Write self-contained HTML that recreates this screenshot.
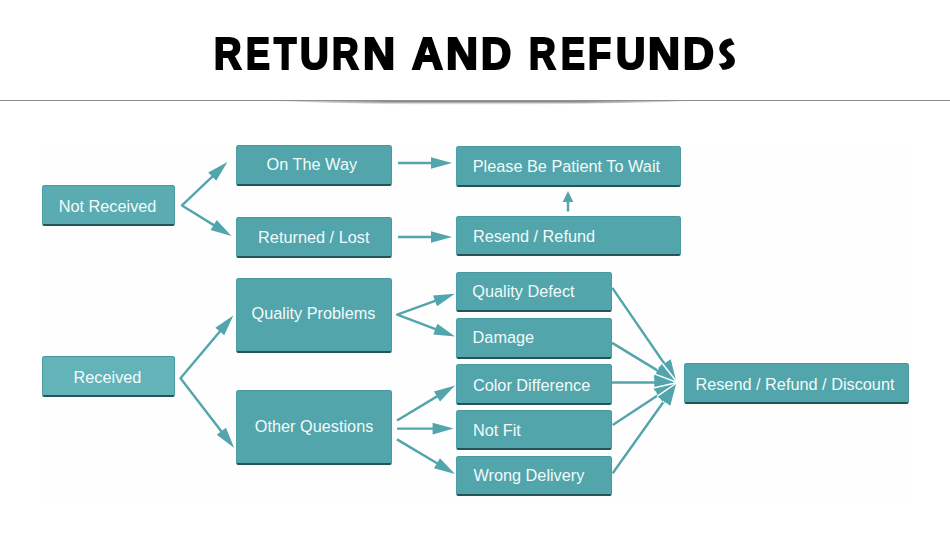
<!DOCTYPE html>
<html><head><meta charset="utf-8">
<style>
html,body{margin:0;padding:0;background:#fff;}
body{width:950px;height:535px;position:relative;overflow:hidden;font-family:"Liberation Sans",sans-serif;}
.tl{position:absolute;top:28.8px;font-weight:bold;font-size:44px;line-height:50px;color:#000;-webkit-text-stroke:2.2px #000;transform-origin:0 0;white-space:nowrap;}
.panel{position:absolute;left:40px;top:144px;width:872px;height:361px;background:#fefefe;}
.b{position:absolute;box-sizing:border-box;background:#51a5ab;border-top:1px solid #48999f;border-left:1px solid #4c9fa5;border-right:1px solid #4a9ca2;border-bottom:2px solid #245458;border-radius:2.5px;}
.t{position:absolute;font-size:16.3px;line-height:20px;color:#f2fbfb;white-space:nowrap;}
svg{position:absolute;left:0;top:0;}
</style></head>
<body>
<svg width="950" height="535">
  <defs>
    <linearGradient id="sh" gradientUnits="userSpaceOnUse" x1="0" y1="100" x2="0" y2="105.5">
      <stop offset="0" stop-color="#6e6e6e" stop-opacity="1"/>
      <stop offset="0.4" stop-color="#888" stop-opacity="0.85"/>
      <stop offset="1" stop-color="#fff" stop-opacity="0"/>
    </linearGradient>
    <linearGradient id="shx" gradientUnits="userSpaceOnUse" x1="250" y1="0" x2="715" y2="0">
      <stop offset="0" stop-color="#fff" stop-opacity="0"/>
      <stop offset="0.3" stop-color="#fff" stop-opacity="1"/>
      <stop offset="0.72" stop-color="#fff" stop-opacity="1"/>
      <stop offset="1" stop-color="#fff" stop-opacity="0"/>
    </linearGradient>
    <mask id="mx" maskUnits="userSpaceOnUse" x="0" y="90" width="950" height="20"><rect x="250" y="95" width="465" height="15" fill="url(#shx)"/></mask>
  </defs>
  <path d="M250,100 C400,106.5 560,106.5 715,100 Z" fill="url(#sh)" mask="url(#mx)"/>
  <rect x="0" y="100" width="950" height="1" fill="#8f8f8f"/>
</svg>
<span class="tl" style="left:214.46px;transform:scaleX(0.8642)">R</span><span class="tl" style="left:245.76px;transform:scaleX(0.8125)">E</span><span class="tl" style="left:274.30px;transform:scaleX(0.8298)">T</span><span class="tl" style="left:299.74px;transform:scaleX(0.9024)">U</span><span class="tl" style="left:332.31px;transform:scaleX(0.8377)">R</span><span class="tl" style="left:362.88px;transform:scaleX(1.0106)">N</span><span class="tl" style="left:412.41px;transform:scaleX(0.9707)">A</span><span class="tl" style="left:445.79px;transform:scaleX(1.0071)">N</span><span class="tl" style="left:481.19px;transform:scaleX(0.9521)">D</span><span class="tl" style="left:529.40px;transform:scaleX(0.8411)">R</span><span class="tl" style="left:560.56px;transform:scaleX(0.8125)">E</span><span class="tl" style="left:588.27px;transform:scaleX(0.8595)">F</span><span class="tl" style="left:616.41px;transform:scaleX(0.9233)">U</span><span class="tl" style="left:648.19px;transform:scaleX(1.0071)">N</span><span class="tl" style="left:682.95px;transform:scaleX(0.9760)">D</span>
<svg width="950" height="535"><path d="M731,38.2 L734.6,44.6 C731.5,45.2 728.5,46 726.8,48.2 C726.2,49.5 727.2,50.8 729.5,52.8 C734.2,56.5 736,59.5 734.3,64 C732.5,68 727.5,69.8 722.6,69.8 L718.8,63.8 C722.5,63.5 725.5,62.8 726.5,61 C727.2,59.6 726.3,58.2 724,56.3 C719.8,52.8 718.4,49.6 719.9,45.5 C721.8,40.6 726.2,38.9 731,38.2 Z" fill="#000"/></svg>
<div class="panel"></div>
<svg width="950" height="535">
<polyline points="214.37,174.52 182,205.4 216.20,226.61" fill="none" stroke="#52a5ac" stroke-width="2.4" stroke-linejoin="round"/>
<polyline points="221.72,329.28 180.5,378.3 223.20,433.65" fill="none" stroke="#52a5ac" stroke-width="2.4" stroke-linejoin="round"/>
<polyline points="437.89,299.87 397.2,314.7 438.16,330.15" fill="none" stroke="#52a5ac" stroke-width="2.4" stroke-linejoin="round"/>
<line x1="398" y1="163" x2="434.00" y2="163.00" stroke="#52a5ac" stroke-width="2.4"/>
<line x1="398" y1="237" x2="434.00" y2="237.00" stroke="#52a5ac" stroke-width="2.4"/>
<line x1="568" y1="211.5" x2="568.00" y2="199.00" stroke="#52a5ac" stroke-width="2.4"/>
<line x1="397" y1="420.5" x2="439.58" y2="394.88" stroke="#52a5ac" stroke-width="2.4"/>
<line x1="397" y1="428.6" x2="435.60" y2="428.60" stroke="#52a5ac" stroke-width="2.4"/>
<line x1="397" y1="439.4" x2="439.54" y2="464.78" stroke="#52a5ac" stroke-width="2.4"/>
<polygon points="227.40,162.10 216.21,180.79 208.20,172.40" fill="#52a5ac"/><polygon points="231.50,236.10 210.60,229.96 216.71,220.10" fill="#52a5ac"/>
<polygon points="233.30,315.50 224.23,335.31 215.35,327.84" fill="#52a5ac"/><polygon points="234.20,447.90 216.78,434.82 225.96,427.73" fill="#52a5ac"/>
<polygon points="454.80,293.70 437.06,306.34 433.08,295.44" fill="#52a5ac"/><polygon points="455.00,336.50 433.30,334.52 437.40,323.66" fill="#52a5ac"/>
<polygon points="452.00,163.00 431.00,168.80 431.00,157.20" fill="#52a5ac"/>
<polygon points="452.00,237.00 431.00,242.80 431.00,231.20" fill="#52a5ac"/>
<polygon points="568.00,191.00 573.30,202.00 562.70,202.00" fill="#52a5ac"/>
<polygon points="455.00,385.60 440.00,401.40 434.02,391.46" fill="#52a5ac"/>
<polygon points="453.60,428.60 432.60,434.40 432.60,422.80" fill="#52a5ac"/>
<polygon points="455.00,474.00 433.99,468.22 439.94,458.26" fill="#52a5ac"/>
<line x1="612.3" y1="287.9" x2="665.97" y2="366.02" stroke="#52a5ac" stroke-width="2.4"/>
<line x1="612.1" y1="342.9" x2="660.21" y2="372.12" stroke="#52a5ac" stroke-width="2.4"/>
<line x1="612" y1="382.5" x2="657.30" y2="382.50" stroke="#52a5ac" stroke-width="2.4"/>
<line x1="612.7" y1="425" x2="660.59" y2="393.49" stroke="#52a5ac" stroke-width="2.4"/>
<line x1="612.7" y1="473.3" x2="665.71" y2="398.80" stroke="#52a5ac" stroke-width="2.4"/>
<polygon points="677.30,382.50 657.19,368.41 671.36,358.67" fill="#52a5ac"/><path d="M657.19,368.41 L677.30,382.50 L671.36,358.67" fill="none" stroke="#ffffff" stroke-width="1.5" stroke-linejoin="round"/>
<polygon points="677.30,382.50 653.18,377.91 662.11,363.21" fill="#52a5ac"/><path d="M653.18,377.91 L677.30,382.50 L662.11,363.21" fill="none" stroke="#ffffff" stroke-width="1.5" stroke-linejoin="round"/>
<polygon points="677.30,382.50 654.30,391.10 654.30,373.90" fill="#52a5ac"/><path d="M654.30,391.10 L677.30,382.50 L654.30,373.90" fill="none" stroke="#ffffff" stroke-width="1.5" stroke-linejoin="round"/>
<polygon points="677.30,382.50 662.81,402.33 653.36,387.96" fill="#52a5ac"/><path d="M662.81,402.33 L677.30,382.50 L653.36,387.96" fill="none" stroke="#ffffff" stroke-width="1.5" stroke-linejoin="round"/>
<polygon points="677.30,382.50 670.97,406.23 656.96,396.26" fill="#52a5ac"/><path d="M670.97,406.23 L677.30,382.50 L656.96,396.26" fill="none" stroke="#ffffff" stroke-width="1.5" stroke-linejoin="round"/>

</svg>
<div class="b" style="left:42px;top:185px;width:133px;height:41px;background:#5aacb2;"></div>
<div class="t" style="left:58.65px;top:196.05px">Not Received</div>
<div class="b" style="left:236px;top:145px;width:156px;height:41px;"></div>
<div class="t" style="left:266.60px;top:154.15px">On The Way</div>
<div class="b" style="left:236px;top:217px;width:156px;height:41px;"></div>
<div class="t" style="left:258.10px;top:227.15px">Returned / Lost</div>
<div class="b" style="left:456px;top:146px;width:225px;height:41px;"></div>
<div class="t" style="left:472.70px;top:155.95px">Please Be Patient To Wait</div>
<div class="b" style="left:456px;top:216px;width:225px;height:40px;"></div>
<div class="t" style="left:472.90px;top:226.15px">Resend / Refund</div>
<div class="b" style="left:42px;top:356px;width:133px;height:41px;background:#62b4b9;"></div>
<div class="t" style="left:73.50px;top:366.85px">Received</div>
<div class="b" style="left:236px;top:278px;width:156px;height:75px;"></div>
<div class="t" style="left:251.50px;top:302.95px">Quality Problems</div>
<div class="b" style="left:236px;top:390px;width:156px;height:75px;"></div>
<div class="t" style="left:254.80px;top:416.45px">Other Questions</div>
<div class="b" style="left:456px;top:272px;width:156px;height:40px;"></div>
<div class="t" style="left:472.30px;top:281.25px">Quality Defect</div>
<div class="b" style="left:456px;top:318px;width:156px;height:41px;"></div>
<div class="t" style="left:472.60px;top:327.15px">Damage</div>
<div class="b" style="left:456px;top:364px;width:156px;height:41px;"></div>
<div class="t" style="left:472.90px;top:375.15px">Color Difference</div>
<div class="b" style="left:456px;top:410px;width:156px;height:40px;"></div>
<div class="t" style="left:472.90px;top:420.45px">Not Fit</div>
<div class="b" style="left:456px;top:456px;width:156px;height:40px;"></div>
<div class="t" style="left:473.40px;top:465.25px">Wrong Delivery</div>
<div class="b" style="left:684px;top:363px;width:225px;height:41px;"></div>
<div class="t" style="left:695.40px;top:374.25px">Resend / Refund / Discount</div>

</body></html>
